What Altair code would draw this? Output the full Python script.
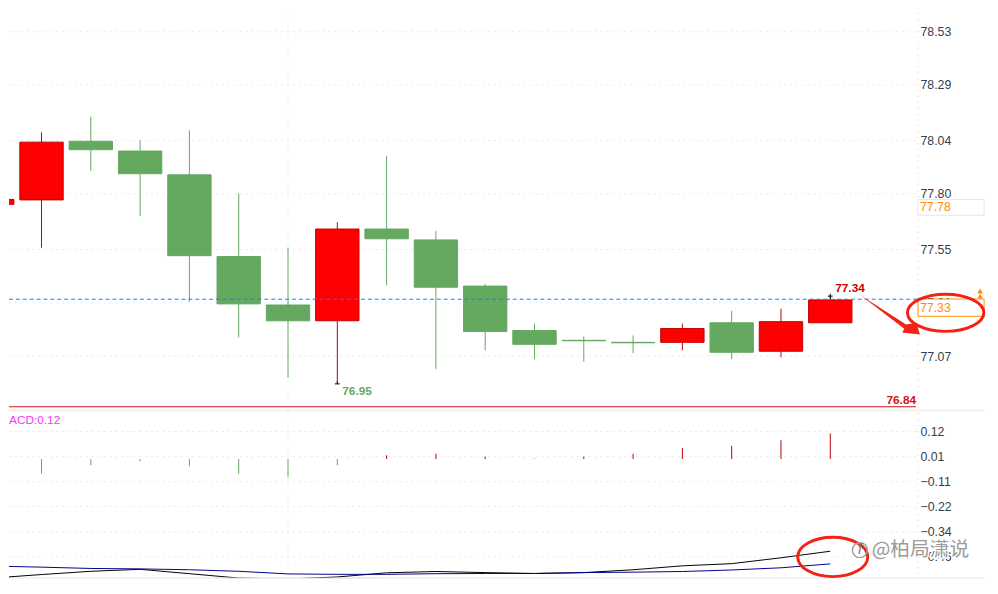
import altair as alt
import pandas as pd

# ---- candles (session index, open/close body edges and wicks, in price units)
idx = list(range(18))
body_top = [77.775, 78.033, 78.037, 77.993, 77.886, 77.518, 77.300, 77.642, 77.642, 77.593,
            77.385, 77.185, 77.141, 77.132, 77.194, 77.220, 77.225, 77.323]
body_bot = [77.753, 77.773, 77.999, 77.891, 77.522, 77.305, 77.229, 77.229, 77.598, 77.380,
            77.181, 77.123, 77.139, 77.130, 77.132, 77.087, 77.092, 77.220]
wick_hi = [77.775, 78.077, 78.148, 78.042, 78.086, 77.802, 77.558, 77.673, 77.971, 77.633,
           77.394, 77.216, 77.158, 77.163, 77.216, 77.274, 77.283, 77.340]
wick_lo = [77.753, 77.558, 77.904, 77.700, 77.314, 77.154, 76.972, 76.945, 77.389, 77.012,
           77.096, 77.056, 77.045, 77.083, 77.096, 77.056, 77.065, 77.220]
rising = [True, True, False, False, False, False, False, True, False, False,
          False, False, False, False, True, False, True, True]

# ---- MACD panel
macd_hist = [None, -0.073, -0.035, -0.017, -0.039, -0.074, -0.088, -0.035, 0.011, 0.018,
             0.005, -0.004, 0.005, 0.018, 0.045, 0.054, 0.080, 0.111]
macd_base = -0.006
dif = [-0.552, -0.536, -0.521, -0.512, -0.532, -0.552, -0.566, -0.547, -0.528, -0.522,
       -0.527, -0.531, -0.527, -0.514, -0.496, -0.486, -0.459, -0.429]
dea = [-0.497, -0.502, -0.508, -0.510, -0.514, -0.521, -0.533, -0.535, -0.535, -0.532,
       -0.531, -0.531, -0.527, -0.525, -0.522, -0.515, -0.505, -0.487]

# ---- axes
price_ticks = [78.53, 78.29, 78.04, 77.80, 77.55, 77.31, 77.07]
macd_ticks = [0.12, 0.005, -0.11, -0.224, -0.34, -0.455]
X_LEFT = 0.34
X_AXIS_LINE = 18.78
X_RIGHT = 20.12
PRICE_DOMAIN = [76.839, 78.614]
MACD_DOMAIN = [-0.5563, 0.2305]
BOTTOM_LINE = -0.552

GREEN = "#64a95f"
RED = "#ff0000"
DARKRED = "#c00000"
ORANGE = "#ff8c00"
GRID = "#e9e9e9"
LABEL = "#333d4d"
SANS = "Liberation Sans"

x_scale = alt.Scale(domain=[X_LEFT, X_AXIS_LINE], nice=False, zero=False, padding=0)
py = alt.Scale(domain=PRICE_DOMAIN, nice=False, zero=False, padding=0)
my = alt.Scale(domain=MACD_DOMAIN, nice=False, zero=False, padding=0, clamp=True)


def axis_for(ticks):
    return alt.Axis(orient="right", values=ticks, format=".2f", grid=False, ticks=False,
                    domain=False, title=None, labelFont=SANS, labelFontSize=12.5,
                    labelColor=LABEL, labelPadding=2, labelAlign="left",
                    labelBaseline="middle", labelOverlap=False, labelFlush=False)


AXES = {id(py): axis_for(price_ticks), id(my): axis_for(macd_ticks)}


def X(field="x"):
    return alt.X(f"{field}:Q", scale=x_scale, axis=None)


def Y(scale, field="y"):
    return alt.Y(f"{field}:Q", scale=scale, axis=AXES[id(scale)])


def hline(scale, values, x0, x1, color, width=1, dash=None):
    df = pd.DataFrame({"y": values, "x": [x0] * len(values), "x2": [x1] * len(values)})
    kw = {"strokeDash": dash} if dash else {}
    return alt.Chart(df).mark_rule(color=color, strokeWidth=width, clip=False, **kw).encode(
        x=X(), x2="x2:Q", y=Y(scale))


def vline(values, color, dash):
    return alt.Chart(pd.DataFrame({"x": values})).mark_rule(
        color=color, strokeWidth=1, strokeDash=dash).encode(x=X())


def label(scale, x, y, text, color, size=12, weight="normal", align="left", font=SANS, clip=False, **extra):
    df = pd.DataFrame({"x": [x], "y": [y], "t": [text]})
    return alt.Chart(df).mark_text(color=color, fontSize=size, fontWeight=weight, align=align,
                                   baseline="middle", font=font, clip=clip, **extra).encode(
        x=X(), y=Y(scale), text="t:N")


def box(scale, x0, x1, y0, y1, stroke, fill="#ffffff", clip=False):
    df = pd.DataFrame({"x": [x0], "x2": [x1], "y": [y0], "y2": [y1]})
    return alt.Chart(df).mark_rect(fill=fill, stroke=stroke, strokeWidth=1, clip=clip).encode(
        x=X(), x2="x2:Q", y=Y(scale), y2="y2:Q")


def symbol(scale, x, y, shape, size, stroke=None, fill=None, width=1):
    df = pd.DataFrame({"x": [x], "y": [y]})
    kw = {}
    if stroke:
        kw["stroke"] = stroke
        kw["strokeWidth"] = width
    if fill:
        kw["fill"] = fill
        kw["filled"] = True
    else:
        kw["fill"] = "transparent"
    return alt.Chart(df).mark_point(shape=shape, size=size, opacity=1, **kw).encode(
        x=X(), y=Y(scale))


candles = pd.DataFrame({"x": idx, "top": body_top, "bot": body_bot, "hi": wick_hi, "lo": wick_lo,
                        "rising": rising})
up = candles[candles.rising]
down = candles[~candles.rising]


def wicks(df, color):
    return alt.Chart(df).mark_rule(color=color, strokeWidth=1, clip=True).encode(
        x=X(), y=Y(py, "hi"), y2="lo:Q")


def bodies(df, fill, stroke):
    return alt.Chart(df).mark_bar(size=44, fill=fill, stroke=stroke, strokeWidth=1, clip=True,
                                  orient="vertical").encode(
        x=X(), y=Y(py, "top"), y2="bot:Q")


def axis_layer(scale, ticks):
    return alt.Chart(pd.DataFrame({"y": ticks})).mark_rule(opacity=0).encode(y=Y(scale))


ARROW = "M-1,-.65L.53,.33L.87,.27L1,.667L.4,.6L.47,.47Z"
ELL1 = "M-1,0A1,.487,0,1,1,1,0A1,.487,0,1,1,-1,0Z"
ELL2 = "M-1,0A1,.563,0,1,1,1,0A1,.563,0,1,1,-1,0Z"
BAR = "M-1,0L1,0M0,-1L0,0"

price = alt.layer(
    axis_layer(py, price_ticks),
    hline(py, price_ticks, X_LEFT, X_AXIS_LINE, GRID, dash=[2, 4]),
    vline([6], GRID, [2, 4]),
    vline([X_AXIS_LINE], "#d0d0d0", [1, 5]),
    hline(py, [76.842], X_LEFT, 18.74, "#d81010", width=1.2),
    wicks(down, GREEN),
    wicks(up, "#b80000"),
    bodies(down, GREEN, GREEN),
    bodies(up, RED, DARKRED),
    hline(py, [77.326], X_LEFT, X_AXIS_LINE, "#0a84ff", dash=[4, 3]),
    symbol(py, 7, 76.945, BAR, 25, stroke="#000000"),
    symbol(py, 17, 77.340, "M-1,0L1,0M0,-1L0,1", 25, stroke="#000000"),
    label(py, 17.1, 77.376, "77.34", "#c80000", weight="bold"),
    label(py, 7.1, 76.914, "76.95", GREEN, weight="bold"),
    label(py, 18.74, 76.874, "76.84", "#d81010", weight="bold", align="right"),
    box(py, X_AXIS_LINE, X_RIGHT, 77.775, 77.704, "#dde9f0"),
    label(py, 18.82, 77.742, "77.78", ORANGE, size=12.5),
    box(py, X_AXIS_LINE, X_RIGHT, 77.327, 77.249, ORANGE),
    label(py, 18.82, 77.287, "77.33", ORANGE, size=12.5),
    symbol(py, 20.04, 77.363, "triangle-up", 32, fill=ORANGE),
    symbol(py, 20.04, 77.340, "triangle-up", 32, fill=ORANGE),
    symbol(py, 19.34, 77.265, ELL1, 6000, stroke="#f32116", width=3),
    symbol(py, 18.22, 77.256, ARROW, 3600, fill="#f32116"),
).properties(width=922, height=400)

hist_df = pd.DataFrame({"x": idx, "y": macd_hist, "y2": [macd_base] * len(idx)}).dropna()
lines_df = pd.DataFrame({"x": idx, "dif": dif, "dea": dea})

macd = alt.layer(
    axis_layer(my, macd_ticks),
    hline(my, macd_ticks, X_LEFT, X_AXIS_LINE, GRID, dash=[2, 4]),
    vline([6], GRID, [2, 4]),
    vline([X_AXIS_LINE], "#d0d0d0", [1, 5]),
    hline(my, [0.216], X_LEFT, X_RIGHT, "#eeeeee", width=1.5),
    hline(my, [BOTTOM_LINE], X_LEFT, X_RIGHT, "#eeeeee", width=1.5),
    alt.Chart(hist_df[hist_df.y < -0.01]).mark_rule(color=GREEN, strokeWidth=1, clip=True).encode(
        x=X(), y=Y(my), y2="y2:Q"),
    alt.Chart(hist_df[hist_df.y >= -0.01]).mark_rule(color="#b80000", strokeWidth=1, clip=True).encode(
        x=X(), y=Y(my), y2="y2:Q"),
    alt.Chart(lines_df).mark_line(color="#000000", strokeWidth=1, clip=True).encode(x=X(), y=Y(my, "dif")),
    alt.Chart(lines_df).mark_line(color="#00008b", strokeWidth=1, clip=True).encode(x=X(), y=Y(my, "dea")),
    label(my, X_LEFT, 0.173, "ACD:0.12", "#ff33ff", size=12),
    box(my, 4.54, 7.80, BOTTOM_LINE, MACD_DOMAIN[0], "#e6e6e6", clip=True),
    label(my, 4.58, MACD_DOMAIN[0], "2020/04/20 00:00 ~ 00:30", ORANGE, size=12, clip=True, dy=4),
    symbol(my, 17.05, -0.455, ELL2, 5041, stroke="#f32116", width=3),
    label(my, 17.84, -0.424, "@柏局潇说", "#ffffff", size=20, font="Noto Sans CJK SC",
          stroke="#ffffff", strokeWidth=3),
    label(my, 17.84, -0.424, "@柏局潇说", "#9a9a9a", size=20, font="Noto Sans CJK SC"),
    symbol(my, 17.6, -0.424, "circle", 230, stroke="#a0a0a0", width=1.5),
    label(my, 17.6, -0.424, "f", "#777777", size=14, align="center", fontStyle="italic"),
).properties(width=922, height=174)

chart = alt.vconcat(price, macd, spacing=0, bounds="flush", padding=0,
                    background="#ffffff").configure_view(strokeWidth=0)

chart.save("out.html", embed_options={"renderer": "svg", "actions": False})
